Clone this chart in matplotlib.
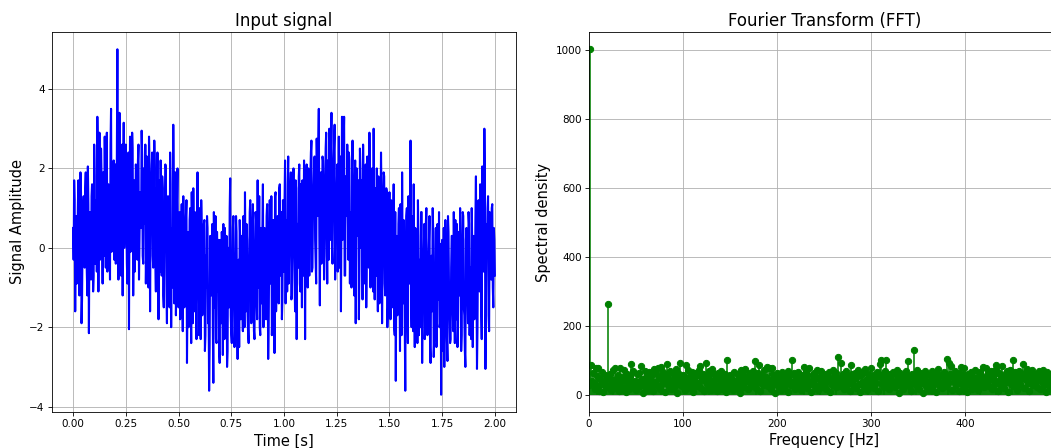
import numpy as np
import matplotlib
matplotlib.use("Agg")
import matplotlib.pyplot as plt

signal = [
    0.5, 1.7, -1.6, 0.8, -0.2, 1.7, -1.2, 1.9, -1.9, 0.3, 1.3, -0.5, 1.9, -0.6, 2.05, -2.15, 0.9, -0.8, 1.6, -1.1,
    2.6, -0.4, 1.2, 3.3, -1.1, 2.9, 0.2, 1.8, -0.9, 1.4, 2.8, -0.5, 2.9, 0.1, 1.5, -0.8, 3.5, 0.4, 2.0, -0.3,
    2.1, 0.6, 5.0, -0.8, 3.4, 0.3, 1.6, -1.2, 3.15, 0.7, 2.6, -0.4, 1.9, -2.05, 2.8, 0.5, 2.9, -1.2, 1.7, 0.2,
    1.8, -0.3, 2.6, 0.4, 1.1, 2.95, -0.2, 2.0, 0.6, -0.9, 2.3, 0.1, 2.8, -1.6, 1.2, 2.4, -0.5, 2.7, -0.3, 1.5,
    2.4, -1.8, 1.0, 2.2, -0.7, 1.5, -1.5, 0.8, 2.0, -1.9, 1.3, -0.6, 2.4, -2.0, 0.5, 3.1, -1.4, 1.9, -0.8, 2.0,
    -1.5, 0.9, -0.6, 1.1, -2.1, 0.3, -1.3, 0.8, -2.9, 0.4, -1.0, 1.0, -2.4, 0.2, 1.5, -1.6, 0.5, -2.3, 1.9, -0.8,
    1.0, -2.3, 0.4, -1.4, 0.6, -2.6, -0.2, 0.8, -1.9, -3.6, 0.3, -1.2, 0.6, -3.4, -0.6, 0.8, -2.4, -0.8, 0.2, -2.9,
    -0.5, 0.4, -2.7, -1.1, 0.5, -2.0, -3.0, 0.0, -1.5, 1.75, -2.2, -0.6, 0.8, -2.5, -1.2, 0.4, -2.8, -0.3, 0.7, -1.8,
    0.3, -2.1, -0.8, 1.4, -1.6, 0.2, -2.2, -0.4, 1.2, -1.9, 0.6, -1.0, -2.3, 0.9, -1.3, 1.7, -0.7, -2.0, 0.5, -1.4,
    1.6, -1.0, 0.3, -1.8, 1.1, -2.8, 0.0, -0.9, 1.3, -1.5, 0.7, -2.65, 1.4, -0.6, 0.8, -1.4, 1.6, -0.2, -1.8, 1.2,
    -0.6, 2.2, 0.3, -1.1, 2.3, 0.1, 1.5, -1.3, 0.9, 2.0, -0.8, 1.7, -2.3, 0.6, 1.8, -0.9, 1.6, -1.5, 0.4, 2.2,
    -2.3, 1.2, 0.2, 2.0, -0.7, 1.8, 2.7, -0.5, 1.4, 2.3, -0.3, 2.75, 0.8, 3.5, -1.45, 1.9, 0.5, 2.2, -0.8, 1.6,
    2.9, -0.9, 1.3, 3.0, 0.2, 3.4, -0.4, 2.1, 3.1, 0.6, 1.4, -0.6, 2.8, 0.9, -1.6, 3.3, 0.4, 3.3, -0.7, 1.5,
    2.6, -0.3, 2.2, 0.9, -1.0, 2.7, 0.3, 1.6, -1.9, 2.0, 0.5, -1.8, 2.5, 0.0, 1.7, 2.6, -0.9, 1.2, -1.5, 2.3,
    0.6, 2.9, -1.0, 1.5, -0.4, 3.0, -1.3, 0.9, 2.0, -1.6, 1.1, -0.2, 2.4, -1.9, 0.7, 1.8, -1.2, 1.5, -2.0, 0.4,
    1.4, -1.8, 0.5, -0.8, 1.6, -2.2, -3.35, 0.3, -1.2, 1.0, -2.6, 0.1, 1.9, -1.4, -0.3, -3.6, 0.8, -1.7, 1.3, -0.9,
    2.7, -2.0, -0.5, 1.6, -2.5, 0.4, -1.1, 1.2, -2.2, -0.3, 0.9, -2.9, -0.8, 0.6, -1.8, 1.0, -2.2, -0.4, 0.8, -2.9,
    -0.2, 1.0, -2.75, -1.0, 0.5, -2.4, -0.6, 0.9, -1.9, -3.7, 0.2, -1.3, -3.0, 0.7, -0.9, -2.85, 0.4, -1.6, -2.3, 0.3,
    -1.5, 0.9, -2.4, -0.6, 0.6, -2.0, -1.0, 1.0, -2.6, -0.2, 0.8, -1.7, -3.0, 0.5, -1.1, 0.9, -2.2, -0.5, 1.0, -2.5,
    0.3, -1.2, 1.8, -3.05, 0.2, -0.9, 1.6, -1.6, 2.05, -0.5, 3.0, -3.05, 0.6, 1.0, -1.7, 0.9, -0.6, 1.0, -1.0, 0.5,
    -0.7,
]

# in-between samples (2.5 ms after each sample above)
signal_mid = [
    -0.3, 1.2, 0.4, -0.9, 1.0, -0.5, 0.7, 1.4, -1.3, 0.9, -0.2, 1.5, 0.2, -1.2, 1.1, 0.3, -0.4, 1.3, 0.6, -0.7,
    1.8, 0.3, -0.6, 2.2, 1.0, -0.3, 2.5, 0.7, 1.9, -0.2, 1.2, 2.4, -0.6, 1.6, 0.9, 2.6, -0.1, 1.3, 2.2, 0.5,
    -0.4, 2.3, 1.1, 0.2, 2.0, -0.7, 2.6, 1.3, 0.0, 2.2, 0.8, -0.9, 2.4, 1.0, -0.1, 1.7, 2.5, 0.4, -0.6, 2.1,
    0.9, 2.2, -0.8, 1.4, 0.5, 2.3, -0.4, 1.1, 2.6, 0.0, 1.6, -1.0, 2.1, 0.7, 1.9, -0.2, 0.8, 2.0, -1.1, 0.6,
    0.1, 1.7, -0.6, 0.9, 1.8, -1.2, 0.3, 2.1, -0.9, 1.0, 0.4, -1.5, 1.6, 0.2, -1.0, 1.4, 0.6, -1.7, 1.2, -0.4,
    0.5, -1.8, 0.2, -0.9, 1.3, -1.5, -0.4, 1.2, -1.1, -2.0, 0.7, -0.6, 1.4, -1.9, -0.2, 0.9, -1.4, 0.3, -0.8, -2.2,
    -0.3, 1.2, -1.7, -0.9, 0.7, -2.2, -1.0, 0.5, -1.4, -2.5, 0.1, -0.7, -2.0, 0.9, -1.5, -2.3, 0.4, -1.1, -2.6, 0.2,
    -1.9, -0.2, 0.6, -2.3, -1.4, 0.3, -2.6, -0.8, 1.0, -1.7, -2.4, 0.5, -0.9, -2.1, 0.8, -1.6, -0.4, -2.5, 0.2, -1.2,
    -1.4, 0.8, -2.0, -0.5, 0.6, -1.7, -2.4, 0.9, -0.8, -1.5, 1.1, -2.1, -0.3, 0.7, -1.8, -1.0, 1.3, -2.2, -0.6, 0.4,
    -2.0, 0.5, -1.2, 0.8, -0.4, -1.9, 1.2, -0.8, -2.2, 0.6, -0.3, 1.3, -1.6, 0.2, -1.0, 1.5, -0.7, 0.9, -1.3, 0.3,
    1.1, -1.4, 0.7, 1.6, -0.9, 0.4, 1.9, -1.2, 1.3, 0.1, -1.6, 1.5, 0.6, -0.5, 2.1, -1.1, 0.8, 1.7, -0.7, 1.0,
    0.4, 2.1, -1.0, 1.5, 0.8, 2.4, -0.6, 1.1, 2.0, 0.2, -0.9, 1.8, 2.6, 0.3, 1.4, -0.4, 2.3, 1.0, -0.2, 2.5,
    0.5, 2.2, -0.3, 1.7, 2.4, 0.0, 1.2, 2.6, -0.8, 1.5, 2.1, 0.4, -0.5, 2.3, 1.1, 0.2, 2.5, -0.7, 1.8, 0.8,
    1.2, 2.4, -0.9, 0.6, 1.9, 0.1, -1.2, 2.2, 1.0, 0.3, 1.7, -0.6, 2.0, 0.8, -1.3, 1.5, 0.4, 2.1, -0.2, 1.1,
    -0.5, 1.6, 0.2, 2.0, -1.1, 0.9, 1.5, -0.7, 0.4, 1.8, -1.4, 0.6, 1.2, -0.3, 1.9, -0.9, 0.1, 1.4, -1.5, 0.8,
    -0.6, 1.2, -1.5, 0.4, -2.0, 0.9, -0.8, -1.7, 0.6, -1.0, 1.1, -2.2, -0.4, 0.7, -1.9, -0.2, 1.0, -2.4, -0.7, 0.5,
    -1.2, 0.8, -2.1, -0.4, 0.5, -1.6, -2.4, 0.3, -0.9, -2.0, 0.9, -1.3, -0.2, -2.3, 0.6, -1.0, -1.9, 0.2, -2.5, -0.6,
    -1.6, 0.4, -2.2, -0.7, -2.5, 0.6, -1.3, -2.0, 0.1, -0.9, -2.6, 0.5, -1.7, -0.3, -2.3, 0.8, -1.1, -2.4, -0.5, 0.3,
    -2.1, -0.8, 0.7, -1.8, -2.5, 0.4, -1.2, -0.3, -2.2, 0.9, -1.5, -2.6, 0.2, -0.7, -1.9, 0.6, -1.3, -2.3, 0.1, -0.9,
    -1.8, 0.7, -0.5, -2.0, 1.2, -1.1, 0.4, -2.3, 0.9, -0.6, 1.6, -1.4, -0.2, 1.3, -2.1, 0.5, -0.8, 1.1, -1.5, 0.2,
]
t_end = 2.0

# FFT magnitude, one value per Hz from 0 to 499 Hz
spectrum = [
    28, 1003, 86, 41, 62, 35, 18, 77, 24, 53, 78, 12, 45, 31, 66, 9, 38, 57, 22, 49, 263, 27, 60, 14, 42,
    33, 71, 19, 78, 46, 25, 58, 11, 77, 37, 52, 20, 72, 44, 8, 61, 29, 48, 17, 55, 90, 34, 68, 23, 40,
    13, 59, 36, 64, 26, 82, 47, 6, 39, 70, 21, 51, 32, 15, 67, 43, 24, 56, 10, 74, 38, 62, 28, 78, 49,
    18, 53, 80, 30, 65, 41, 9, 57, 88, 27, 45, 69, 16, 35, 60, 22, 50, 75, 5, 42, 63, 31, 93, 47, 26,
    58, 37, 14, 85, 44, 71, 29, 54, 20, 66, 39, 7, 48, 62, 25, 56, 33, 72, 83, 19, 46, 61, 12, 40, 93,
    30, 55, 68, 21, 43, 15, 75, 36, 59, 24, 49, 10, 64, 32, 52, 70, 18, 45, 28, 61, 38, 8, 102, 50, 23,
    57, 34, 47, 13, 66, 41, 27, 60, 19, 53, 6, 44, 71, 30, 58, 22, 76, 39, 50, 16, 63, 35, 48, 26, 69,
    42, 97, 20, 55, 33, 64, 85, 11, 46, 58, 28, 72, 37, 52, 80, 24, 79, 43, 17, 60, 78, 31, 49, 5, 40,
    62, 26, 54, 36, 14, 67, 45, 21, 59, 33, 48, 70, 9, 41, 56, 29, 101, 38, 63, 18, 51, 35, 66, 23, 47,
    15, 58, 40, 80, 27, 53, 65, 19, 44, 78, 32, 7, 57, 36, 62, 24, 49, 72, 13, 45, 30, 55, 68, 21, 39,
    60, 34, 17, 52, 43, 66, 8, 48, 29, 71, 37, 56, 22, 63, 40, 109, 25, 50, 92, 33, 61, 18, 46, 69, 28,
    54, 36, 12, 85, 41, 59, 27, 47, 64, 20, 52, 73, 31, 9, 57, 38, 67, 24, 75, 44, 15, 61, 35, 53, 26,
    79, 42, 58, 19, 48, 33, 66, 10, 54, 88, 102, 30, 45, 62, 23, 70, 100, 37, 51, 16, 59, 28, 43, 65, 34,
    21, 56, 72, 39, 6, 50, 63, 27, 46, 18, 58, 35, 69, 44, 98, 24, 53, 12, 61, 38, 131, 48, 29, 57, 73,
    40, 16, 64, 33, 52, 5, 47, 70, 26, 59, 37, 14, 55, 43, 68, 22, 50, 31, 62, 9, 45, 74, 28, 57, 36,
    19, 53, 66, 41, 25, 104, 48, 34, 92, 60, 83, 15, 51, 38, 70, 27, 44, 58, 11, 63, 80, 32, 49, 22, 77,
    56, 39, 7, 61, 45, 29, 67, 18, 52, 36, 71, 24, 48, 13, 59, 42, 65, 30, 54, 80, 21, 47, 78, 35, 62,
    26, 50, 69, 17, 44, 58, 33, 74, 85, 40, 12, 63, 28, 55, 83, 46, 20, 60, 37, 68, 9, 51, 72, 31, 43,
    57, 101, 24, 65, 39, 14, 53, 70, 30, 48, 61, 88, 19, 45, 66, 75, 35, 56, 11, 62, 41, 73, 27, 50, 34,
    59, 22, 47, 68, 16, 55, 38, 71, 29, 63, 44, 8, 67, 52, 25, 60, 36, 18, 57, 49, 70, 31, 65, 42, 54,
]
nyquist = 500

values = np.empty(len(signal) + len(signal_mid))
values[0::2] = signal
values[1::2] = signal_mid
t = np.linspace(0, t_end, len(values))
freqs = np.arange(len(spectrum))

fig, (ax1, ax2) = plt.subplots(1, 2, figsize=(1051 / 75, 448 / 75), dpi=75)
ax1.set_position([52 / 1051, 36 / 448, 464 / 1051, 380 / 448])
ax2.set_position([589 / 1051, 36 / 448, 470.5 / 1051, 380 / 448])

ax1.plot(t, values, color="b", linewidth=2)
ax1.set_title("Input signal", fontsize=16)
ax1.set_xlabel("Time [s]", fontsize=14)
ax1.set_ylabel("Signal Amplitude", fontsize=14)
ax1.tick_params(labelsize=10)
ax1.grid(True)

ax2.stem(freqs, spectrum, linefmt="g-", markerfmt="go", basefmt=" ")
ax2.set_xlim(0, nyquist)
ax2.set_xticks(range(0, 401, 100))  # 500 falls past the right edge
ax2.set_title("Fourier Transform (FFT)", fontsize=16)
ax2.set_xlabel("Frequency [Hz]", fontsize=14)
ax2.set_ylabel("Spectral density", fontsize=14)
ax2.tick_params(labelsize=10)
ax2.grid(True)

fig.savefig("out.png", dpi=75)
